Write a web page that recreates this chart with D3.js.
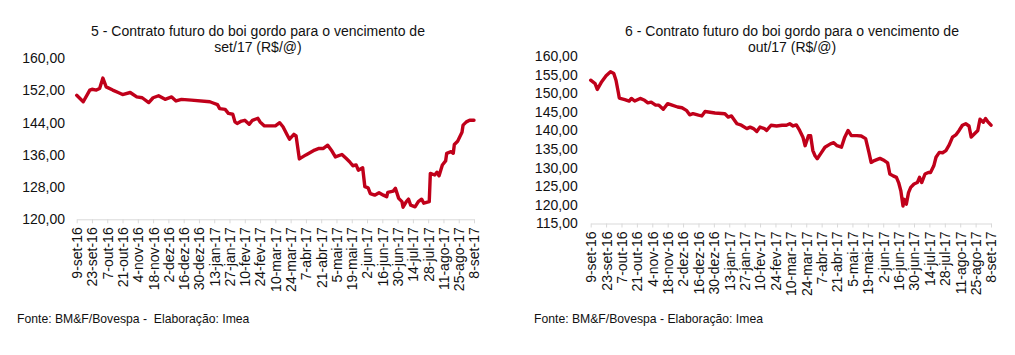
<!DOCTYPE html>
<html>
<head>
<meta charset="utf-8">
<script src="https://cdn.jsdelivr.net/npm/d3@7/dist/d3.min.js"></script>
<style>
html,body{margin:0;padding:0;background:#fff;}
svg{display:block;font-family:"Liberation Sans",Arial,Helvetica,sans-serif;}
</style>
</head>
<body>
<script>
// ---- Data ----
const tickDates = ["2016-09-09","2016-09-23","2016-10-07","2016-10-21","2016-11-04","2016-11-18","2016-12-02","2016-12-16","2016-12-30","2017-01-13","2017-01-27","2017-02-10","2017-02-24","2017-03-10","2017-03-24","2017-04-07","2017-04-21","2017-05-05","2017-05-19","2017-06-02","2017-06-16","2017-06-30","2017-07-14","2017-07-28","2017-08-11","2017-08-25","2017-09-08"];
const tickLabels = ["9-set-16","23-set-16","7-out-16","21-out-16","4-nov-16","18-nov-16","2-dez-16","16-dez-16","30-dez-16","13-jan-17","27-jan-17","10-fev-17","24-fev-17","10-mar-17","24-mar-17","7-abr-17","21-abr-17","5-mai-17","19-mai-17","2-jun-17","16-jun-17","30-jun-17","14-jul-17","28-jul-17","11-ago-17","25-ago-17","8-set-17"];

const leftTicks = [120,128,136,144,152,160];
const rightTicks = [115,120,125,130,135,140,145,150,155,160];

const leftDates = ["2016-09-09","2016-09-15","2016-09-21","2016-09-23","2016-09-27","2016-09-30","2016-10-03","2016-10-06","2016-10-12","2016-10-17","2016-10-21","2016-10-28","2016-11-03","2016-11-08","2016-11-14","2016-11-18","2016-11-23","2016-11-29","2016-12-05","2016-12-09","2016-12-14","2016-12-23","2017-01-09","2017-01-12","2017-01-16","2017-01-18","2017-01-23","2017-01-26","2017-01-30","2017-02-01","2017-02-03","2017-02-07","2017-02-10","2017-02-14","2017-02-17","2017-02-22","2017-02-24","2017-02-28","2017-03-07","2017-03-10","2017-03-14","2017-03-17","2017-03-21","2017-03-23","2017-03-27","2017-03-29","2017-04-01","2017-04-07","2017-04-15","2017-04-19","2017-04-23","2017-04-27","2017-05-01","2017-05-04","2017-05-10","2017-05-14","2017-05-17","2017-05-20","2017-05-23","2017-05-25","2017-05-29","2017-05-31","2017-06-03","2017-06-05","2017-06-09","2017-06-13","2017-06-17","2017-06-20","2017-06-21","2017-06-26","2017-06-28","2017-07-01","2017-07-04","2017-07-05","2017-07-08","2017-07-10","2017-07-12","2017-07-16","2017-07-19","2017-07-22","2017-07-24","2017-07-29","2017-07-30","2017-08-03","2017-08-05","2017-08-07","2017-08-10","2017-08-13","2017-08-14","2017-08-18","2017-08-20","2017-08-21","2017-08-24","2017-08-26","2017-08-28","2017-08-29","2017-09-01","2017-09-04","2017-09-08"];
const leftValues = [150.8,149.2,152.1,152.3,152.1,152.5,155.1,152.9,152.1,151.5,151.0,151.5,150.4,150.2,149.0,150.2,150.7,149.8,150.4,149.4,149.8,149.6,149.2,148.9,148.5,147.5,147.3,146.3,146.1,144.2,143.8,144.4,144.6,143.6,144.6,145.1,144.2,143.2,143.2,143.2,144.0,143.0,140.9,139.9,141.1,140.7,135.0,136.0,137.2,137.6,137.6,138.4,136.9,135.5,136.1,135.1,134.3,133.3,133.5,132.2,132.8,128.1,127.8,126.4,126.0,126.6,126.0,125.6,126.7,127.0,127.7,125.2,124.4,123.0,124.4,125.0,123.5,123.1,124.4,125.0,124.0,124.4,131.4,131.0,131.7,130.8,133.5,134.5,136.4,136.8,136.4,138.6,139.4,140.5,141.6,143.4,144.2,144.6,144.6];

const rightDates = ["2016-09-09","2016-09-13","2016-09-15","2016-09-19","2016-09-23","2016-09-27","2016-09-30","2016-10-02","2016-10-04","2016-10-05","2016-10-10","2016-10-14","2016-10-16","2016-10-19","2016-10-24","2016-10-28","2016-10-31","2016-11-03","2016-11-07","2016-11-10","2016-11-14","2016-11-18","2016-11-22","2016-11-27","2016-12-01","2016-12-05","2016-12-08","2016-12-11","2016-12-16","2016-12-19","2016-12-22","2016-12-31","2017-01-09","2017-01-12","2017-01-15","2017-01-20","2017-01-24","2017-01-29","2017-02-01","2017-02-04","2017-02-07","2017-02-10","2017-02-14","2017-02-16","2017-02-20","2017-02-25","2017-03-02","2017-03-06","2017-03-09","2017-03-12","2017-03-15","2017-03-18","2017-03-21","2017-03-23","2017-03-26","2017-03-28","2017-03-30","2017-04-01","2017-04-03","2017-04-06","2017-04-10","2017-04-15","2017-04-18","2017-04-21","2017-04-25","2017-04-28","2017-05-01","2017-05-04","2017-05-09","2017-05-13","2017-05-17","2017-05-20","2017-05-22","2017-05-25","2017-05-30","2017-06-03","2017-06-06","2017-06-08","2017-06-11","2017-06-14","2017-06-16","2017-06-18","2017-06-20","2017-06-21","2017-06-23","2017-06-25","2017-06-27","2017-06-30","2017-07-03","2017-07-05","2017-07-07","2017-07-10","2017-07-13","2017-07-15","2017-07-18","2017-07-20","2017-07-23","2017-07-26","2017-07-29","2017-08-01","2017-08-04","2017-08-07","2017-08-10","2017-08-13","2017-08-16","2017-08-19","2017-08-21","2017-08-24","2017-08-27","2017-08-29","2017-09-01","2017-09-03","2017-09-05","2017-09-08"];
const rightValues = [153.5,152.6,151.0,153.1,154.7,155.8,155.3,153.5,150.4,148.7,148.3,147.9,148.6,147.9,148.6,148.1,147.4,147.6,146.8,146.8,145.7,147.2,146.8,146.3,146.1,145.4,144.2,144.5,144.1,143.9,145.1,144.7,144.5,143.6,143.9,141.8,141.4,140.5,140.9,140.5,139.7,140.9,140.5,140.0,141.4,141.2,141.4,141.4,141.8,141.2,141.5,140.0,138.2,135.9,138.6,138.6,134.6,133.2,132.4,133.7,135.5,136.4,136.7,135.9,135.5,138.2,140.0,138.6,138.6,138.5,137.8,134.1,131.4,131.9,132.5,131.9,131.3,128.3,127.8,127.4,126.0,123.8,119.7,121.5,120.2,123.3,124.7,125.6,126.0,127.4,126.0,128.3,128.7,128.7,130.5,132.8,134.1,134.0,134.6,136.1,138.2,138.8,140.0,141.4,141.8,141.2,138.2,139.1,140.0,143.0,142.2,143.2,142.4,141.4];

const leftTitle = ["5 - Contrato futuro do boi gordo para o vencimento de","set/17 (R$/@)"];
const rightTitle = ["6 - Contrato futuro do boi gordo para o vencimento de","out/17 (R$/@)"];
const leftSource = "Fonte: BM&F/Bovespa -  Elaboração: Imea";
const rightSource = "Fonte: BM&F/Bovespa - Elaboração: Imea";

// ---- Drawing ----
const parse = d3.timeParse("%Y-%m-%d");
const W = 1015, H = 355;
const svg = d3.select("body").append("svg").attr("width", W).attr("height", H);
const lineColor = "#c0001a";
const axisColor = "#d9d9d9";
const textColor = "#111";

function drawChart(c) {
  const g = svg.append("g");
  const x = d3.scaleTime().domain([parse(tickDates[0]), parse(tickDates[tickDates.length-1])]).range([c.x0, c.x1]);
  const y = d3.scaleLinear().domain([c.yTicks[0], c.yTicks[c.yTicks.length-1]]).range([c.y0, c.y1]);

  // title
  c.title.forEach((t, i) => {
    g.append("text").attr("x", c.titleX).attr("y", 36 + i*16)
      .attr("text-anchor", "middle").attr("font-size", "14px").attr("fill", textColor).text(t);
  });

  // y axis labels
  const ya = g.append("g").attr("transform", `translate(${c.x0},0)`)
    .call(d3.axisLeft(y).tickValues(c.yTicks).tickSize(0).tickPadding(c.yPad)
      .tickFormat(d => d3.format(".2f")(d).replace(".", ",")));
  ya.select(".domain").remove();
  ya.selectAll("text").attr("font-size", "14px").attr("fill", textColor)
    .attr("font-family", "Liberation Sans, Arial, sans-serif");

  // x axis
  const td = tickDates.map(parse);
  const xa = g.append("g").attr("transform", `translate(0,${c.y0})`)
    .call(d3.axisBottom(x).tickValues(td).tickSize(4).tickSizeOuter(0)
      .tickFormat((d, i) => tickLabels[i]));
  xa.select(".domain").attr("stroke", axisColor);
  xa.selectAll(".tick line").attr("stroke", axisColor);
  xa.selectAll("text").attr("font-size", "14px").attr("fill", textColor)
    .attr("font-family", "Liberation Sans, Arial, sans-serif")
    .attr("transform", "rotate(-90)").attr("text-anchor", "end")
    .attr("x", -8).attr("y", 0).attr("dy", "0.35em");

  // line
  const data = c.dates.map((d, i) => ({d: parse(d), v: c.values[i]}));
  g.append("path").datum(data)
    .attr("d", d3.line().x(p => x(p.d)).y(p => y(p.v)))
    .attr("fill", "none").attr("stroke", lineColor).attr("stroke-width", 3.4)
    .attr("stroke-linejoin", "round").attr("stroke-linecap", "round");

  // source
  g.append("text").attr("x", c.srcX).attr("y", 323).attr("font-size", "12.2px")
    .style("white-space", "pre")
    .attr("fill", textColor).text(c.source);
}

drawChart({x0: 76.7, x1: 474, y0: 219.3, y1: 58.3, yTicks: leftTicks, yPad: 11.7,
  title: leftTitle, titleX: 258, dates: leftDates, values: leftValues, source: leftSource, srcX: 17});
drawChart({x0: 590.7, x1: 991, y0: 223.5, y1: 56, yTicks: rightTicks, yPad: 13,
  title: rightTitle, titleX: 792, dates: rightDates, values: rightValues, source: rightSource, srcX: 534});
</script>
</body>
</html>
